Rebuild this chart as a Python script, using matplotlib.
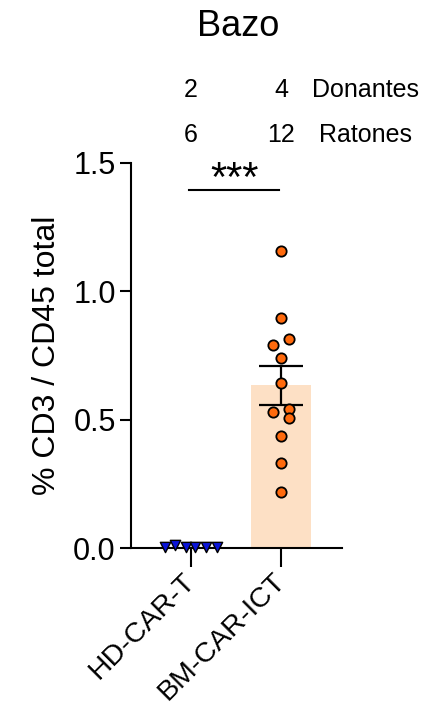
import matplotlib.pyplot as plt
import numpy as np

plt.rcParams['font.family'] = ['Liberation Sans', 'DejaVu Sans']

groups = ["HD-CAR-T", "BM-CAR-ICT"]
hd_vals = [0.003, 0.012, 0.003, 0.003, 0.003, 0.003]
hd_offsets = [-0.29, -0.18, -0.06, 0.05, 0.17, 0.29]
bm_vals = [1.157, 0.897, 0.813, 0.791, 0.740, 0.643, 0.531, 0.543, 0.508, 0.436, 0.332, 0.219]
bm_offsets = [0, 0, 0.26, -0.26, 0, 0, -0.26, 0.26, 0.26, 0, 0, 0]
donantes = [2, 4]
ratones = [6, 12]

fig = plt.figure(figsize=(4.33, 7.11), dpi=100)
ax = fig.add_axes([0.3025, 0.229, 0.4873, 0.542])

bm_mean = np.mean(bm_vals)
bm_sem = np.std(bm_vals, ddof=1) / np.sqrt(len(bm_vals))

ax.bar(1, bm_mean, width=0.667, color="#FDE0C5", zorder=1)
ax.errorbar(1, bm_mean, yerr=bm_sem, fmt="none", ecolor="black", elinewidth=1.6,
            capsize=16, capthick=1.6, zorder=2)
ax.scatter(1 + np.array(bm_offsets) * 0.333, bm_vals, s=55, color="#FF6A0D",
           edgecolor="black", linewidth=1.3, zorder=3, clip_on=False)
ax.scatter(0 + np.array(hd_offsets), hd_vals, s=55, marker="v", color="#0A14D8",
           edgecolor="black", linewidth=1.0, zorder=3, clip_on=False)

# significance
ax.plot([-0.02, 0.98], [1.395, 1.395], color="black", lw=1.5, clip_on=False)
ax.text(0.48, 1.435, "***", ha="center", va="center", fontsize=30)

ax.set_xlim(-0.667, 1.678)
ax.set_ylim(0, 1.5)
ax.set_yticks([0, 0.5, 1.0, 1.5])
ax.set_yticklabels(["0.0", "0.5", "1.0", "1.5"], fontsize=22)
ax.set_xticks([0, 1])
ax.set_xticklabels(groups, rotation=45, ha="right", rotation_mode="anchor", fontsize=20.5)
ax.tick_params(axis="y", length=8, width=1.5, pad=3)
ax.tick_params(axis="x", length=14, width=1.5, pad=0)
for lab in ax.get_xticklabels():
    lab.set_va("center")
    lab.set_y(-0.026)
for s in ["top", "right"]:
    ax.spines[s].set_visible(False)
ax.spines["left"].set_linewidth(1.5)
ax.spines["bottom"].set_linewidth(1.5)
ax.set_ylabel("% CD3 / CD45 total", fontsize=23, labelpad=8)

fig.text(0.55, 0.963, "Bazo", ha="center", va="center", fontsize=26)
for i, (d, r) in enumerate(zip(donantes, ratones)):
    xf = ax.transData.transform((i, 0))[0] / fig.dpi / 4.33
    fig.text(xf, 0.874, str(d), ha="center", va="center", fontsize=18)
    fig.text(xf, 0.81, str(r), ha="center", va="center", fontsize=18)
fig.text(0.843, 0.874, "Donantes", ha="center", va="center", fontsize=18)
fig.text(0.843, 0.81, "Ratones", ha="center", va="center", fontsize=18)

fig.savefig("out.png", dpi=100)
